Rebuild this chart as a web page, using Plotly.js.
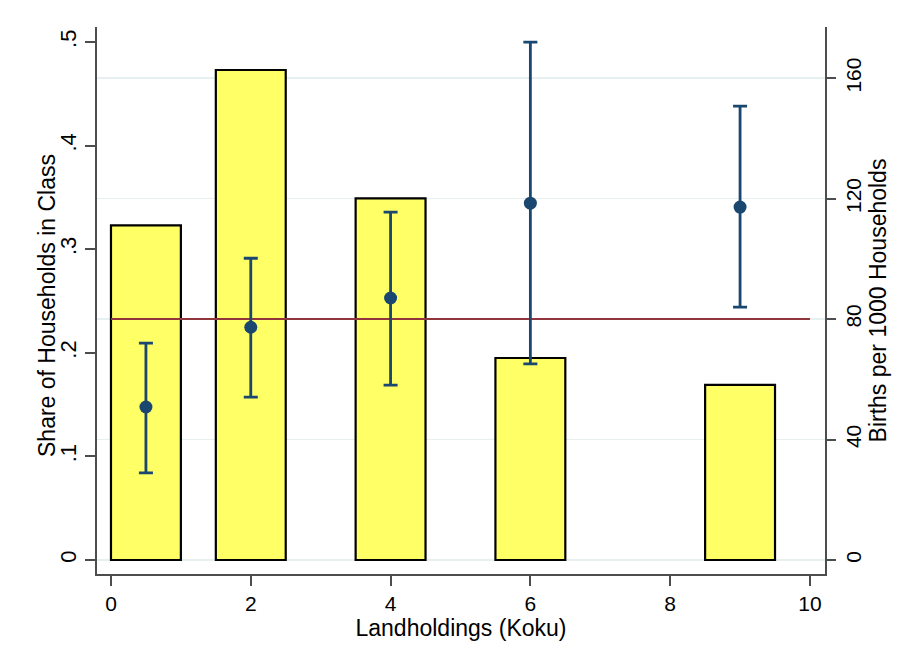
<!DOCTYPE html>
<html>
<head>
<meta charset="utf-8">
<script src="https://cdn.plot.ly/plotly-3.0.1.min.js"></script>
<style>html,body{margin:0;padding:0;background:#fff;}#chart{width:902px;height:664px;}</style>
</head>
<body>
<div id="chart"></div>
<script>
// Landholding classes (bar centres in koku) and widths
const classCenters = [0.5, 2, 4, 6, 9];
const classWidths = [1, 1, 1, 1, 1];
// Share of households in each class (left axis)
const householdShare = [0.323, 0.473, 0.349, 0.195, 0.169];
// Births per 1000 households (right axis) with interval bounds
const birthRate = [50.8, 77.3, 87.0, 118.5, 117.2];
const birthLow  = [28.9, 54.1, 58.1, 65.1, 84.0];
const birthHigh = [72.0, 100.2, 115.5, 172.0, 150.7];
// Overall reference rate line
const refLineX = [0, 10];
const refLineY = [80, 80];
// Tick labels
const xTicks = [0, 2, 4, 6, 8, 10];
const leftTickVals = [0, 0.1, 0.2, 0.3, 0.4, 0.5];
const leftTickText = ["0", ".1", ".2", ".3", ".4", ".5"];
const rightTickVals = [0, 40, 80, 120, 160];
const rightTickText = ["0", "40", "80", "120", "160"];
const leftTitle = "Share of Households in Class";

const FONT = "Liberation Sans, Arial, sans-serif";
const navy = "#1a476f";
const axisCol = "#4d4d4d";

const traces = [
  {
    type: "bar",
    x: classCenters,
    y: householdShare,
    width: classWidths,
    marker: {color: "#ffff66", line: {color: "#000000", width: 2.2}},
    yaxis: "y",
    hoverinfo: "x+y"
  },
  {
    type: "scatter",
    mode: "lines",
    x: refLineX,
    y: refLineY,
    yaxis: "y2",
    line: {color: "#90353b", width: 2},
    hoverinfo: "y"
  },
  {
    type: "scatter",
    mode: "markers",
    x: classCenters,
    y: birthRate,
    yaxis: "y2",
    marker: {color: navy, size: 13},
    error_y: {
      type: "data",
      symmetric: false,
      array: birthHigh.map((h, i) => h - birthRate[i]),
      arrayminus: birthRate.map((r, i) => r - birthLow[i]),
      color: navy,
      thickness: 2.8,
      width: 7
    }
  }
];

const layout = {
  width: 902,
  height: 664,
  margin: {l: 97, r: 77, t: 27, b: 90},
  paper_bgcolor: "#ffffff",
  plot_bgcolor: "#ffffff",
  showlegend: false,
  font: {family: FONT, size: 23, color: "#000"},
  xaxis: {
    range: [-0.2, 10.215],
    tickvals: xTicks,
    ticktext: xTicks.map(String),
    showgrid: false,
    zeroline: false,
    showline: true,
    linecolor: axisCol,
    linewidth: 2,
    ticks: "outside",
    ticklen: 10,
    tickwidth: 2,
    tickcolor: axisCol,
    tickfont: {family: FONT, size: 21, color: "#000"},
    title: {text: "Landholdings (Koku)", font: {family: FONT, size: 23, color: "#000"}, standoff: 1},
    automargin: false
  },
  yaxis: {
    range: [-0.0135, 0.5145],
    tickvals: leftTickVals,
    ticktext: leftTickText,
    tickangle: -90,
    showgrid: false,
    zeroline: false,
    showline: true,
    linecolor: axisCol,
    linewidth: 2,
    ticks: "outside",
    ticklen: 10,
    tickwidth: 2,
    tickcolor: axisCol,
    tickfont: {family: FONT, size: 22, color: "#000"},
    automargin: false
  },
  yaxis2: {
    overlaying: "y",
    side: "right",
    range: [-4.65, 177.0],
    tickvals: rightTickVals,
    ticktext: rightTickText,
    tickangle: -90,
    showgrid: true,
    gridcolor: "#e6f0f1",
    gridwidth: 1.5,
    zeroline: false,
    showline: true,
    linecolor: axisCol,
    linewidth: 2,
    ticks: "outside",
    ticklen: 9,
    tickwidth: 2,
    tickcolor: axisCol,
    tickfont: {family: FONT, size: 21, color: "#000"},
    title: {text: "Births per 1000 Households", font: {family: FONT, size: 23, color: "#000"}, standoff: 0},
    automargin: false
  },
  annotations: [
    {
      text: leftTitle,
      xref: "paper", yref: "paper",
      x: -0.0687, y: 0.4918,
      xanchor: "center", yanchor: "middle",
      textangle: -90,
      showarrow: false,
      font: {family: FONT, size: 23, color: "#000"}
    }
  ]
};

Plotly.newPlot("chart", traces, layout, {displayModeBar: false, staticPlot: true});
</script>
</body>
</html>
